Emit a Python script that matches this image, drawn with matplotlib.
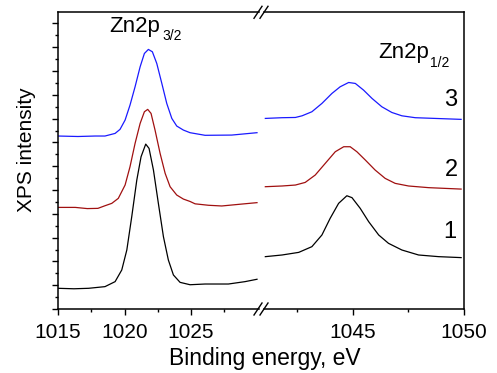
import matplotlib
matplotlib.use('Agg')
import matplotlib.pyplot as plt
from matplotlib.lines import Line2D
from matplotlib.ticker import FixedLocator, NullFormatter

plt.rcParams['font.family'] = ['Liberation Sans', 'DejaVu Sans']

# Zn2p3/2 region (left segment), binding energy in eV, intensity in tick units
e1_left = [1015.0, 1016.2, 1017.3, 1018.53, 1019.29, 1019.79, 1020.17, 1020.54, 1020.92,
           1021.24, 1021.59, 1021.84, 1022.17, 1022.54, 1022.92, 1023.29, 1023.67,
           1024.17, 1024.92, 1026.05, 1027.8, 1029.05, 1029.95]
i1_left = [0.87, 0.85, 0.87, 0.94, 1.15, 1.64, 2.48, 3.88, 5.42,
           6.40, 6.93, 6.75, 5.84, 4.44, 3.04, 2.06, 1.43,
           1.12, 1.02, 1.05, 1.05, 1.15, 1.25]

e2_left = [1015.0, 1016.3, 1017.2, 1018.0, 1018.53, 1019.04, 1019.53, 1020.04, 1020.41,
           1020.79, 1021.17, 1021.49, 1021.74, 1021.99, 1022.29, 1022.67, 1023.05,
           1023.42, 1023.92, 1024.42, 1024.92, 1025.3, 1026.3, 1027.3, 1028.8, 1029.95]
i2_left = [4.27, 4.27, 4.22, 4.23, 4.34, 4.44, 4.65, 5.21, 5.98,
           6.96, 7.80, 8.29, 8.39, 8.22, 7.52, 6.54, 5.70,
           5.14, 4.79, 4.62, 4.52, 4.42, 4.36, 4.33, 4.41, 4.47]

e3_left = [1015.0, 1016.5, 1017.8, 1018.53, 1019.29, 1019.66, 1020.04, 1020.41, 1020.79,
           1021.17, 1021.49, 1021.79, 1022.09, 1022.42, 1022.8, 1023.17, 1023.55,
           1023.92, 1024.42, 1024.92, 1026.05, 1028.05, 1029.95]
i3_left = [7.27, 7.25, 7.27, 7.27, 7.38, 7.55, 7.94, 8.57, 9.34,
           10.18, 10.74, 10.91, 10.81, 10.32, 9.48, 8.64, 8.01,
           7.69, 7.52, 7.41, 7.30, 7.31, 7.41]

# Zn2p1/2 region (right segment)
e1_right = [1041.08, 1041.83, 1042.58, 1043.17, 1043.62, 1043.99, 1044.37, 1044.74, 1044.97,
            1045.34, 1045.72, 1046.17, 1046.61, 1047.21, 1047.96, 1048.86, 1049.87]
i1_right = [2.20, 2.27, 2.38, 2.62, 3.11, 3.81, 4.44, 4.76, 4.68,
            4.23, 3.67, 3.11, 2.76, 2.48, 2.27, 2.20, 2.16]

e2_right = [1041.08, 1041.83, 1042.43, 1042.87, 1043.32, 1043.77, 1044.22, 1044.60, 1044.89,
            1045.19, 1045.57, 1046.01, 1046.46, 1046.91, 1047.51, 1048.41, 1049.87]
i2_right = [5.14, 5.17, 5.21, 5.32, 5.63, 6.12, 6.61, 6.82, 6.82,
            6.61, 6.26, 5.84, 5.49, 5.28, 5.17, 5.10, 5.04]

e3_right = [1041.08, 1041.83, 1042.43, 1042.73, 1043.17, 1043.62, 1044.07, 1044.44, 1044.82,
            1045.12, 1045.49, 1045.87, 1046.31, 1046.76, 1047.21, 1047.81, 1048.70, 1049.87]
i3_right = [8.01, 8.04, 8.05, 8.12, 8.29, 8.64, 9.06, 9.34, 9.52,
            9.48, 9.20, 8.85, 8.50, 8.26, 8.12, 8.04, 8.01, 7.97]

colors = ['black', '#a01010', '#1a1aff']
labels = ['1', '2', '3']

W, H = 497, 373
fig = plt.figure(figsize=(W / 100, H / 100), dpi=100)


def box(x0, x1, y0=12.3, y1=309):
    return [x0 / W, 1 - y1 / H, (x1 - x0) / W, (y1 - y0) / H]


axL = fig.add_axes(box(58, 259))
axR = fig.add_axes(box(264, 464))

for e, i, c in zip([e1_left, e2_left, e3_left], [i1_left, i2_left, i3_left], colors):
    axL.plot(e, i, color=c, lw=0.9)
for e, i, c in zip([e1_right, e2_right, e3_right], [i1_right, i2_right, i3_right], colors):
    axR.plot(e, i, color=c, lw=0.9)

axL.set_xlim(1015, 1030.1)
axR.set_xlim(1041.02, 1050)
for ax in (axL, axR):
    ax.set_ylim(0, 12.47)
    for s in ax.spines.values():
        s.set_linewidth(1.1)
    ax.tick_params(which='major', direction='out', length=4.3, width=1.0, labelsize=15, pad=5.5)
    ax.tick_params(which='minor', direction='out', length=2.5, width=1.0)

axL.spines['right'].set_visible(False)
axR.spines['left'].set_visible(False)

axL.set_xticks([1015, 1020, 1025])
axL.xaxis.set_minor_locator(FixedLocator([1017.5, 1022.5, 1027.5]))
axL.set_yticks(range(0, 13))
axL.yaxis.set_minor_locator(FixedLocator([k + 0.5 for k in range(12)]))
axL.yaxis.set_major_formatter(NullFormatter())

axR.set_xticks([1045, 1050])
axR.xaxis.set_minor_locator(FixedLocator([1042.5, 1047.5]))
axR.set_yticks([])

# axis break marks
for yb in (12.3, 309):
    for xb in (258, 264):
        fig.add_artist(Line2D([(xb - 4) / W, (xb + 4) / W],
                              [1 - (yb + 6) / H, 1 - (yb - 6) / H],
                              color='black', lw=1.0))

fig.text(27 / W, 1 - 150 / H, 'XPS intensity', rotation=90, ha='center', va='center', fontsize=15)
fig.text(265 / W, 1 - 365 / H, 'Binding energy, eV', ha='center', va='baseline', fontsize=16.5)

# peak labels: main text plus smaller lowered subscript
fig.text(109 / W, 1 - 32 / H, 'Zn2p', ha='left', va='baseline', fontsize=16)
fig.text(162 / W, 1 - 40 / H, '3/2', ha='left', va='baseline', fontsize=10)
fig.text(378 / W, 1 - 58 / H, 'Zn2p', ha='left', va='baseline', fontsize=16)
fig.text(430 / W, 1 - 67 / H, '1/2', ha='left', va='baseline', fontsize=10)
for lab, (lx, ly) in zip(labels, [(450, 232.5), (451, 169.5), (451, 99.5)]):
    fig.text(lx / W, 1 - ly / H, lab, ha='center', va='center', fontsize=17)

fig.savefig('out.png', dpi=100)
